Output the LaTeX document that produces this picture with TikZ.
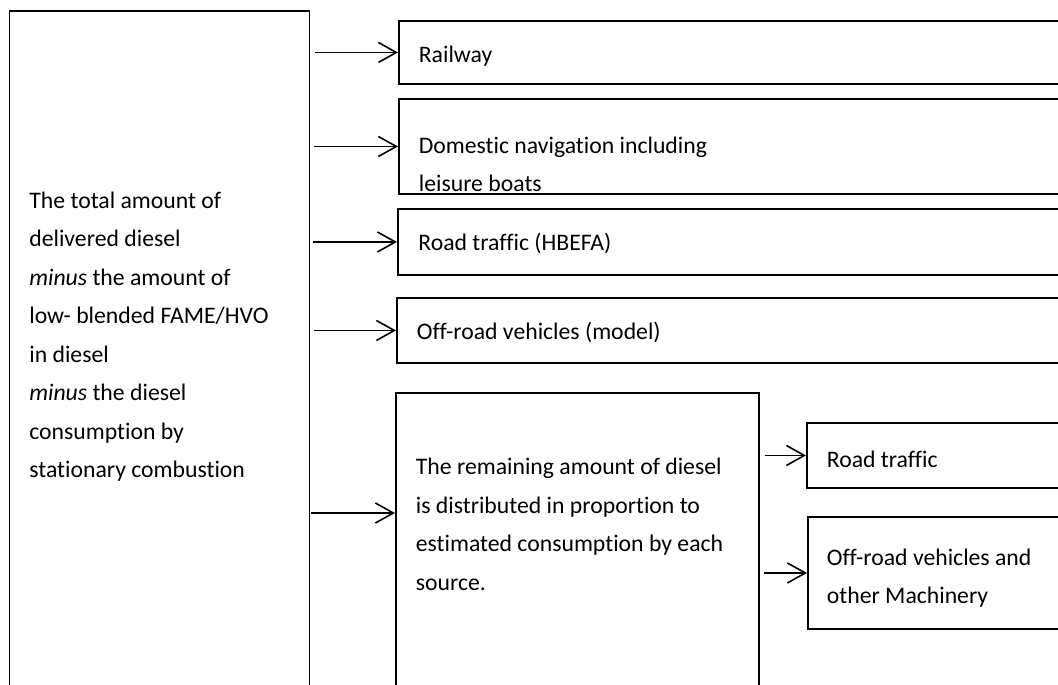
\documentclass[tikz,border=0pt]{standalone}
\usepackage{fontspec}
\setmainfont{Carlito}[Ligatures=NoCommon]
\usetikzlibrary{arrows.meta,positioning}
\tikzset{%
	box/.style   = {draw, rectangle, line width=1.1pt, anchor=north west, inner sep=0pt}, % frame
	txt/.style   = {anchor=base west, align=left, inner sep=0pt, font=\fontsize{13.5}{21.9}\selectfont}, % text, placed by its last line
	arrow/.style = {line width=0.9pt, -{Straight Barb[length=0.36cm,width=0.4cm,line width=0.9pt]}},
}

\begin{document}
\begin{tikzpicture}
	\useasboundingbox (0,0) rectangle (21.16,-13.68);
	\clip (0,0) rectangle (21.16,-13.68);
	
	\node[box, minimum width=6cm, minimum height=14cm] (total) at (0.17,-0.2) {};
	\node[txt] (totaltxt) at (0.58,-9.55) {The total amount of\\delivered diesel\\\textit{minus} the amount of\\low- blended FAME/HVO\\in diesel\\\textit{minus} the diesel\\consumption by\\stationary combustion};
	
	\node[box, minimum width=14cm, minimum height=1.26cm] (rail) at (7.96,-0.4) {};
	\node[txt] (railtxt) at (8.37,-1.25) {Railway};
	\node[box, minimum width=14cm, minimum height=1.9cm] (dom) at (7.96,-1.96) {};
	\node[txt] (domtxt) at (8.37,-3.83) {Domestic navigation including\\leisure boats};
	\node[box, minimum width=14cm, minimum height=1.32cm] (hbefa) at (7.94,-4.16) {};
	\node[txt] (hbefatxt) at (8.36,-5.0) {Road traffic (HBEFA)};
	\node[box, minimum width=14cm, minimum height=1.3cm] (offmod) at (7.92,-5.94) {};
	\node[txt] (offmodtxt) at (8.33,-6.79) {Off-road vehicles (model)};
	\node[box, minimum width=7.26cm, minimum height=6.5cm] (remain) at (7.90,-7.84) {};
	\node[txt] (remaintxt) at (8.31,-11.8) {The remaining amount of diesel\\is distributed in proportion to\\estimated consumption by each\\source.};
	
	\node[box, minimum width=6cm, minimum height=1.3cm] (road) at (16.12,-8.44) {};
	\node[txt] (roadtxt) at (16.53,-9.35) {Road traffic};
	\node[box, minimum width=6cm, minimum height=2.24cm] (offmach) at (16.14,-10.32) {};
	\node[txt] (offmachtxt) at (16.53,-12.07) {Off-road vehicles and\\other Machinery};
	
	\coordinate (remainin) at ([yshift=-2.42cm]remain.north west);
	\draw[arrow] ([xshift=0.1cm]total.east |- rail.west) -- (rail.west);
	\draw[arrow] ([xshift=0.08cm]total.east |- dom.west) -- (dom.west);
	\draw[arrow] ([xshift=0.06cm]total.east |- hbefa.west) -- (hbefa.west);
	\draw[arrow] ([xshift=0.08cm]total.east |- offmod.west) -- (offmod.west);
	\draw[arrow] ([xshift=0.02cm]total.east |- remainin) -- (remainin);
	\draw[arrow] ([xshift=0.1cm]remain.east |- road.west) -- (road.west);
	\draw[arrow] ([xshift=0.08cm]remain.east |- offmach.west) -- (offmach.west);
\end{tikzpicture}
\end{document}
